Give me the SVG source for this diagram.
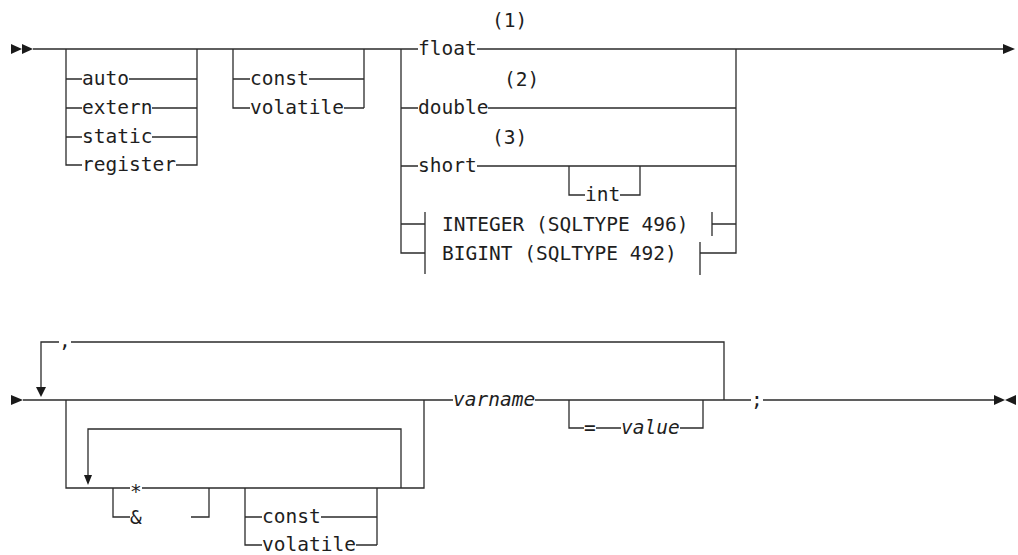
<svg xmlns="http://www.w3.org/2000/svg" width="1018" height="555" viewBox="0 0 1018 555">
<style>
.r{fill:none;stroke:#2b2b2b;stroke-width:1.3;stroke-linecap:butt}
.a{fill:#1a1a1a}
text{font-family:"DejaVu Sans Mono","Liberation Mono",monospace;font-size:19.5px;fill:#1e1e1e}
.i{font-style:italic}
</style>
<rect width="1018" height="555" fill="#fff"/>
<g id="connectors">
<path class="r" d="M33 49H418M477 49H1003"/>
<path class="r" d="M66 49V165H82M66 79H82M66 108H82M66 137H82M197 49V165H176M129 79H197M152 108H197M152 137H197"/>
<path class="r" d="M233 49V108H250M233 79H250M309 79H364M344 108H364M364 49V108"/>
<path class="r" d="M401 49V253H425M401 108H418M401 166H418M401 224H425M488 108H736M477 166H736M736 49V253H700M712 224H736"/>
<path class="r" d="M569 166V195H585M620 195H640V166"/>
<path class="r" d="M425 212V274M712 212V236M700 242V275"/>
<path class="r" d="M23 400H453M535 400H751M763 400H994"/>
<path class="r" d="M724 400V342H71M59 342H41V387"/>
<path class="r" d="M66 400V488H130M142 488H424V400"/>
<path class="r" d="M401 488V429H88V475"/>
<path class="r" d="M113 488V517H130M191 517H209V488"/>
<path class="r" d="M245 488V545H262M245 517H262M321 517H377M356 545H377M377 488V545"/>
<path class="r" d="M569 400V428H584M596 428H621M680 428H703V400"/>
<polygon class="a" points="11,44 22,49 11,54"/>
<polygon class="a" points="22,44 33,49 22,54"/>
<polygon class="a" points="1003,44 1015,49 1003,54"/>
<polygon class="a" points="11,395 23,400 11,405"/>
<polygon class="a" points="36,387 46,387 41,397"/>
<polygon class="a" points="84,475 92,475 88,485"/>
<polygon class="a" points="994,395 1005,400 994,405"/>
<polygon class="a" points="1016,395 1005,400 1016,405"/>
</g>
<g id="n-auto"><text x="82" y="85">auto</text></g>
<g id="n-extern"><text x="82" y="114">extern</text></g>
<g id="n-static"><text x="82" y="143">static</text></g>
<g id="n-register"><text x="82" y="171">register</text></g>
<g id="n-const1"><text x="250" y="85">const</text></g>
<g id="n-volatile1"><text x="250" y="114">volatile</text></g>
<g id="n-float"><text x="418" y="55">float</text><text x="492" y="27">(1)</text></g>
<g id="n-double"><text x="418" y="114">double</text><text x="504" y="86">(2)</text></g>
<g id="n-short"><text x="418" y="172">short</text><text x="492" y="144">(3)</text></g>
<g id="n-int"><text x="585" y="201">int</text></g>
<g id="n-integer"><text x="442" y="231">INTEGER (SQLTYPE 496)</text></g>
<g id="n-bigint"><text x="442" y="260">BIGINT (SQLTYPE 492)</text></g>
<g id="n-comma"><text x="59" y="347">,</text></g>
<g id="n-star"><text x="130" y="498">*</text></g>
<g id="n-amp"><text x="130" y="524">&amp;</text></g>
<g id="n-const2"><text x="262" y="523">const</text></g>
<g id="n-volatile2"><text x="262" y="551">volatile</text></g>
<g id="n-varname"><text class="i" x="453" y="406">varname</text></g>
<g id="n-eq"><text x="584" y="434">=</text></g>
<g id="n-value"><text class="i" x="621" y="434">value</text></g>
<g id="n-semi"><text x="751" y="406">;</text></g>
</svg>
